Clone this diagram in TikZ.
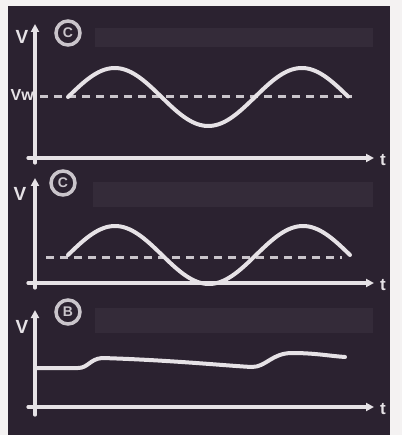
\documentclass[tikz,border=0pt]{standalone}
\usepackage{fontspec}
\setmainfont{Liberation Sans}
\usetikzlibrary{arrows.meta}
\definecolor{scr}{HTML}{2B2230}
\definecolor{band}{HTML}{342B39}
\definecolor{ink}{HTML}{E6E2E6}
\definecolor{paper}{HTML}{F4F2F2}
\tikzset{
  axis/.style={draw=ink, line width=3.2pt, line cap=round},
  axarrow/.style={axis, -{Triangle[length=8pt,width=8pt]}},
  trace/.style={draw=ink, line width=4pt, line cap=round},
  dashline/.style={draw=ink!85!scr, line width=3pt, dash pattern=on 8pt off 6pt},
  lbl/.style={text=ink, font=\bfseries\fontsize{19}{19}\selectfont, inner sep=0pt},
  circ/.style={circle, draw=ink!85!scr, line width=3.5pt, minimum size=24pt, inner sep=0pt,
     text=ink!85!scr, font=\bfseries\fontsize{14}{14}\selectfont},
  bandbox/.style={fill=band, draw=none}
}
\begin{document}
\begin{tikzpicture}[x=1pt,y=-1pt]
\useasboundingbox (0,0) rectangle (402,435);
\fill[paper] (0,0) rectangle (402,435);
\fill[scr] (8,6) rectangle (390,435);
% bands
\fill[bandbox] (95,28) rectangle (373,47);
\fill[bandbox] (93,182) rectangle (373,207);
\fill[bandbox] (95,308) rectangle (373,333);
% ---------- panel 1
\coordinate (v1a) at (35,163); \coordinate (v1b) at (35,24);
\coordinate (t1a) at (28,158); \coordinate (t1b) at (374,158);
\draw[axarrow] (v1a) -- (v1b);
\draw[axarrow] (t1a) -- (t1b);
\node[lbl] (V1) at (22,37) {V};
\node[lbl, font=\bfseries\fontsize{17}{17}\selectfont] (T1) at (383,160) {t};
\node[circ] (C1) at (68,33) {C};
\node[lbl, font=\bfseries\fontsize{16}{16}\selectfont, anchor=east] (Vw) at (34,95) {Vw};
\coordinate (d1a) at (40,97); \coordinate (d1b) at (352,97);
\draw[dashline] (d1a) -- (d1b);
\draw[trace] plot[domain=68:348, samples=120] (\x, {97-29*sin((\x-68)/187*360)});
% ---------- panel 2
\coordinate (v2a) at (35,288); \coordinate (v2b) at (35,178);
\coordinate (t2a) at (28,283); \coordinate (t2b) at (374,283);
\draw[axarrow] (v2a) -- (v2b);
\draw[axarrow] (t2a) -- (t2b);
\node[lbl] (V2) at (20,194) {V};
\node[lbl, font=\bfseries\fontsize{17}{17}\selectfont] (T2) at (383,285) {t};
\node[circ] (C2) at (63,183) {C};
\coordinate (d2a) at (46,257); \coordinate (d2b) at (342,257);
\draw[dashline] (d2a) -- (d2b);
\draw[trace] plot[domain=68:350, samples=120] (\x, {255-29*sin((\x-68)/188*360)});
% ---------- panel 3
\coordinate (v3a) at (35,415); \coordinate (v3b) at (35,310);
\coordinate (t3a) at (28,407); \coordinate (t3b) at (374,407);
\draw[axarrow] (v3a) -- (v3b);
\draw[axarrow] (t3a) -- (t3b);
\node[lbl] (V3) at (22,327) {V};
\node[lbl, font=\bfseries\fontsize{17}{17}\selectfont] (T3) at (383,409) {t};
\node[circ] (C3) at (68,312) {B};
\draw[trace] (35,368) -- (78,368) .. controls (88,368) and (90,359) .. (102,358)
  .. controls (170,360) and (230,366) .. (252,367)
  .. controls (266,367) and (272,353) .. (292,353)
  .. controls (315,353) and (330,356) .. (345,357);
\end{tikzpicture}
\end{document}
